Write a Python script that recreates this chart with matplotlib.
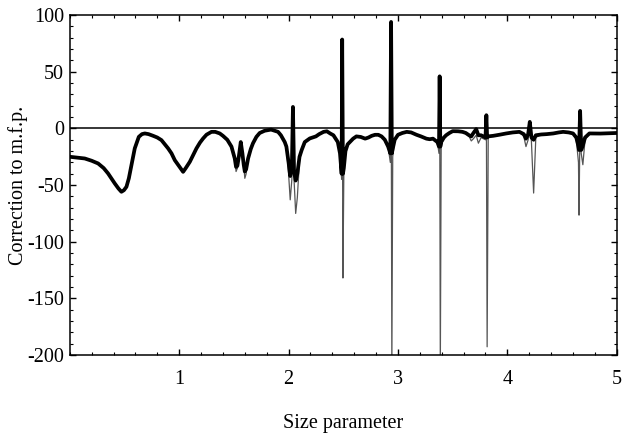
import matplotlib
matplotlib.use("Agg")
import matplotlib.pyplot as plt
from matplotlib.ticker import MultipleLocator

# Values; each row of the three lists covers the same points.
size_param = [
    0.00, 0.07, 0.137, 0.20, 0.259, 0.31, 0.35, 0.411, 0.445, 0.472,
    0.495, 0.518, 0.54, 0.564, 0.594, 0.631, 0.66, 0.686, 0.72, 0.762,
    0.80, 0.838, 0.899, 0.93, 0.96, 1.00, 1.036, 1.06, 1.097, 1.13,
    1.158, 1.19, 1.219, 1.25, 1.295, 1.33, 1.371, 1.40, 1.44, 1.478,
    1.508, 1.52, 1.532, 1.545, 1.563, 1.578, 1.59, 1.60, 1.612, 1.63,
    1.655, 1.675, 1.706, 1.736, 1.782, 1.84, 1.904, 1.93, 1.965, 1.98,
    2.00, 2.015, 2.03, 2.04, 2.05, 2.065, 2.08, 2.10, 2.12, 2.148,
    2.194, 2.25, 2.28, 2.32, 2.35, 2.38, 2.41, 2.43, 2.45, 2.47,
    2.485, 2.49, 2.497, 2.505, 2.52, 2.54, 2.56, 2.59, 2.62, 2.66,
    2.70, 2.73, 2.76, 2.79, 2.82, 2.85, 2.88, 2.91, 2.93, 2.937,
    2.944, 2.952, 2.97, 3.00, 3.04, 3.08, 3.12, 3.17, 3.21, 3.26,
    3.29, 3.32, 3.36, 3.375, 3.381, 3.387, 3.395, 3.42, 3.44, 3.47,
    3.50, 3.55, 3.59, 3.62, 3.65, 3.67, 3.69, 3.715, 3.735, 3.76,
    3.80, 3.808, 3.815, 3.825, 3.87, 3.93, 3.99, 4.05, 4.11, 4.15,
    4.17, 4.19, 4.205, 4.22, 4.24, 4.26, 4.31, 4.36, 4.42, 4.47,
    4.51, 4.56, 4.60, 4.63, 4.65, 4.655, 4.665, 4.675, 4.69, 4.71,
    4.75, 4.85, 4.93, 5.00]

# Thick curve
correction_thick = [
    -25, -25.8, -26.5, -28.5, -30.9, -35, -39.7, -48.5, -53, -55.9,
    -54.5, -51.5, -44, -32.4, -17.6, -7.4, -5, -4.4, -5, -6.5,
    -8, -10.3, -17.6, -22, -28, -33.5, -38.3, -35, -29.5, -23,
    -17.6, -12.5, -8.8, -5.5, -3, -3, -4.4, -6.5, -10, -16,
    -26.5, -34, -33, -25, -12, -22, -32, -38, -36, -26.5,
    -18, -13, -7.4, -4, -2, -1, -3, -6, -12, -16,
    -30, -42, -35, 19, -38, -46, -40, -25, -19, -12,
    -8.8, -7, -5, -3, -2.5, -4.4, -6, -9, -12, -22,
    -40, 78.5, -40, -35, -20, -14, -12, -9, -7, -7.5,
    -9, -8, -6.5, -5.6, -5.6, -7, -10, -16, -22, 94,
    -22, -18, -10, -5.6, -4, -3, -3.5, -5.6, -7, -9,
    -9.5, -9, -12, -16, 46, -16, -12, -8, -6, -4,
    -2.4, -2.5, -3, -4, -6, -7, -4, -0.6, -6, -6,
    -8, 11.7, -8, -7, -6.5, -5.5, -4.4, -3.5, -3, -5,
    -9, -5, 5.8, -8, -10, -6, -5.3, -5, -4.4, -3.5,
    -3, -3.5, -4.4, -8, -16, -19, 15.5, -19, -15, -8,
    -4.4, -4.5, -4.2, -4]

# Thin curve
correction_thin = [
    -25, -25.8, -26.5, -28.5, -30.9, -35, -39.7, -48.5, -53, -55.9,
    -54.5, -51.5, -44, -32.4, -17.6, -7.4, -5, -4.4, -5, -6.5,
    -8, -10.3, -17.6, -22, -28, -33.5, -38.3, -35, -29.5, -23,
    -17.6, -12.5, -8.8, -5.5, -3, -3, -4.4, -6.5, -10, -16,
    -26.5, -38, -35, -25, -12, -22, -32, -44, -40, -26.5,
    -18, -13, -7.4, -4, -2, -1, -3, -6, -12, -16,
    -40, -63, -45, 19, -45, -75, -61, -28, -19, -12,
    -8.8, -7, -5, -3, -2.5, -4.4, -6, -9, -12, -22,
    -45, 78.5, -132, -40, -20, -14, -12, -9, -7, -7.5,
    -9, -8, -6.5, -5.6, -5.6, -7, -10, -16, -30, 94,
    -215, -25, -10, -5.6, -4, -3, -3.5, -5.6, -7, -9,
    -9.5, -9, -12, -22, 46, -215, -15, -8, -6, -4,
    -2.4, -2.5, -3, -4.5, -7, -11, -9, -6, -13, -8,
    -10, 11.7, -192.7, -8, -6.5, -5.5, -4.4, -3.5, -3, -7,
    -16, -10, 5.8, -12, -57, -8, -5.3, -5, -4.4, -3.5,
    -3, -3.5, -4.4, -10, -30, -76.5, 15.5, -22, -32, -10,
    -4.4, -4.5, -4.2, -4]

assert len(size_param) == len(correction_thick) == len(correction_thin)

x_ticks = [1, 2, 3, 4, 5]
y_ticks = [-200, -150, -100, -50, 0, 50, 100]

plt.rcParams['font.family'] = ['Liberation Serif', 'DejaVu Serif']
plt.rcParams['axes.unicode_minus'] = False

fig = plt.figure(figsize=(6.23, 4.33), dpi=100)
ax = fig.add_axes([0.112, 0.180, 0.878, 0.785])

ax.axhline(0, color='black', lw=1.1, zorder=1)
ax.plot(size_param, correction_thin, color='#555555', lw=0.9, zorder=2)
ax.plot(size_param, correction_thick, color='black', lw=2.7, zorder=3,
        solid_joinstyle='round', solid_capstyle='round')

ax.set_xlim(0, 5)
ax.set_ylim(-200, 100)
ax.set_xticks(x_ticks)
ax.set_yticks(y_ticks)
ax.xaxis.set_minor_locator(MultipleLocator(0.2))
ax.yaxis.set_minor_locator(MultipleLocator(10))
ax.tick_params(which='both', direction='in', top=True, right=True, labelsize=14.5)
ax.tick_params(which='major', length=4, width=1)
ax.tick_params(which='minor', length=2.5, width=0.8)
ax.tick_params(axis='x', pad=11)
ax.tick_params(axis='y', pad=4)
for s in ax.spines.values():
    s.set_linewidth(1.1)

ax.set_xlabel('Size parameter', fontsize=14.5, va='center')
ax.set_ylabel('Correction to m.f.p.', fontsize=14.5, va='center')
ax.xaxis.set_label_coords(0.5, (355 - 423) / 340)
ax.yaxis.set_label_coords((18 - 70) / 547, 0.5)

fig.savefig('out.png', dpi=100)
